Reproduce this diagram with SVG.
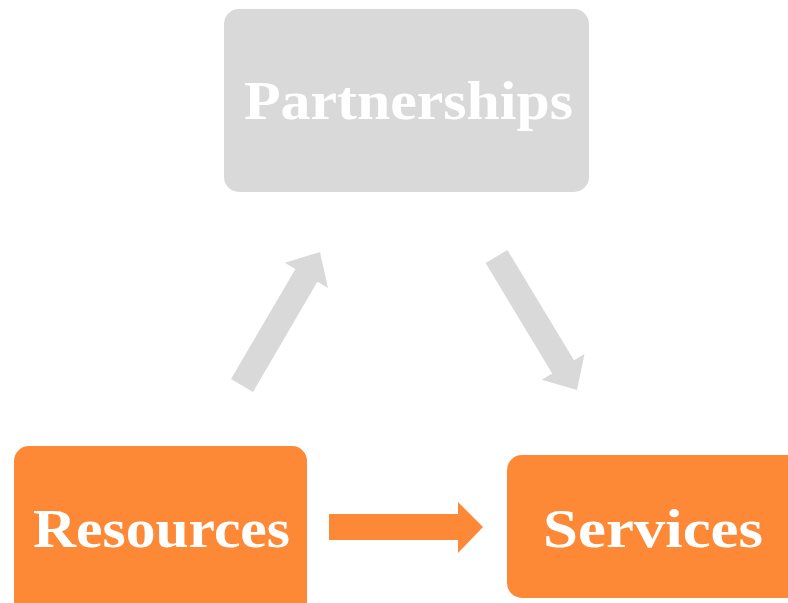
<svg xmlns="http://www.w3.org/2000/svg" width="788" height="603" viewBox="0 0 788 603">
<style>
.gray{fill:#d9d9d9}
.orange{fill:#fd8937}
.lbl{font-family:"Liberation Serif","DejaVu Serif",serif;font-weight:bold;font-size:54px;fill:#ffffff;text-anchor:middle}
</style>
<rect width="788" height="603" fill="#ffffff"/>
<g id="partnerships">
<rect class="gray" x="224" y="9" width="365" height="183" rx="15" ry="15"/>
<text class="lbl" x="408.5" y="119" textLength="329" lengthAdjust="spacingAndGlyphs">Partnerships</text>
</g>
<g id="resources">
<rect class="orange" x="14" y="446" width="293" height="175" rx="15" ry="15"/>
<text class="lbl" x="161.5" y="547" textLength="257" lengthAdjust="spacingAndGlyphs">Resources</text>
</g>
<g id="services">
<rect class="orange" x="507" y="455" width="300" height="143" rx="15" ry="15"/>
<text class="lbl" x="653" y="547" textLength="220" lengthAdjust="spacingAndGlyphs">Services</text>
</g>
<g id="connectors">
<polygon class="gray" points="231,379.1 295.4,268.9 284.8,262.7 320,252 328,288 317.4,281.7 253,391.9"/>
<polygon class="gray" points="485.6,263.1 507.4,249.9 574,360.3 584.5,354 577,390 541.7,379.8 552.2,373.5"/>
<polygon class="orange" points="329,514 458,514 458,502 483,527 458,553 458,540 329,540"/>
</g>
</svg>
